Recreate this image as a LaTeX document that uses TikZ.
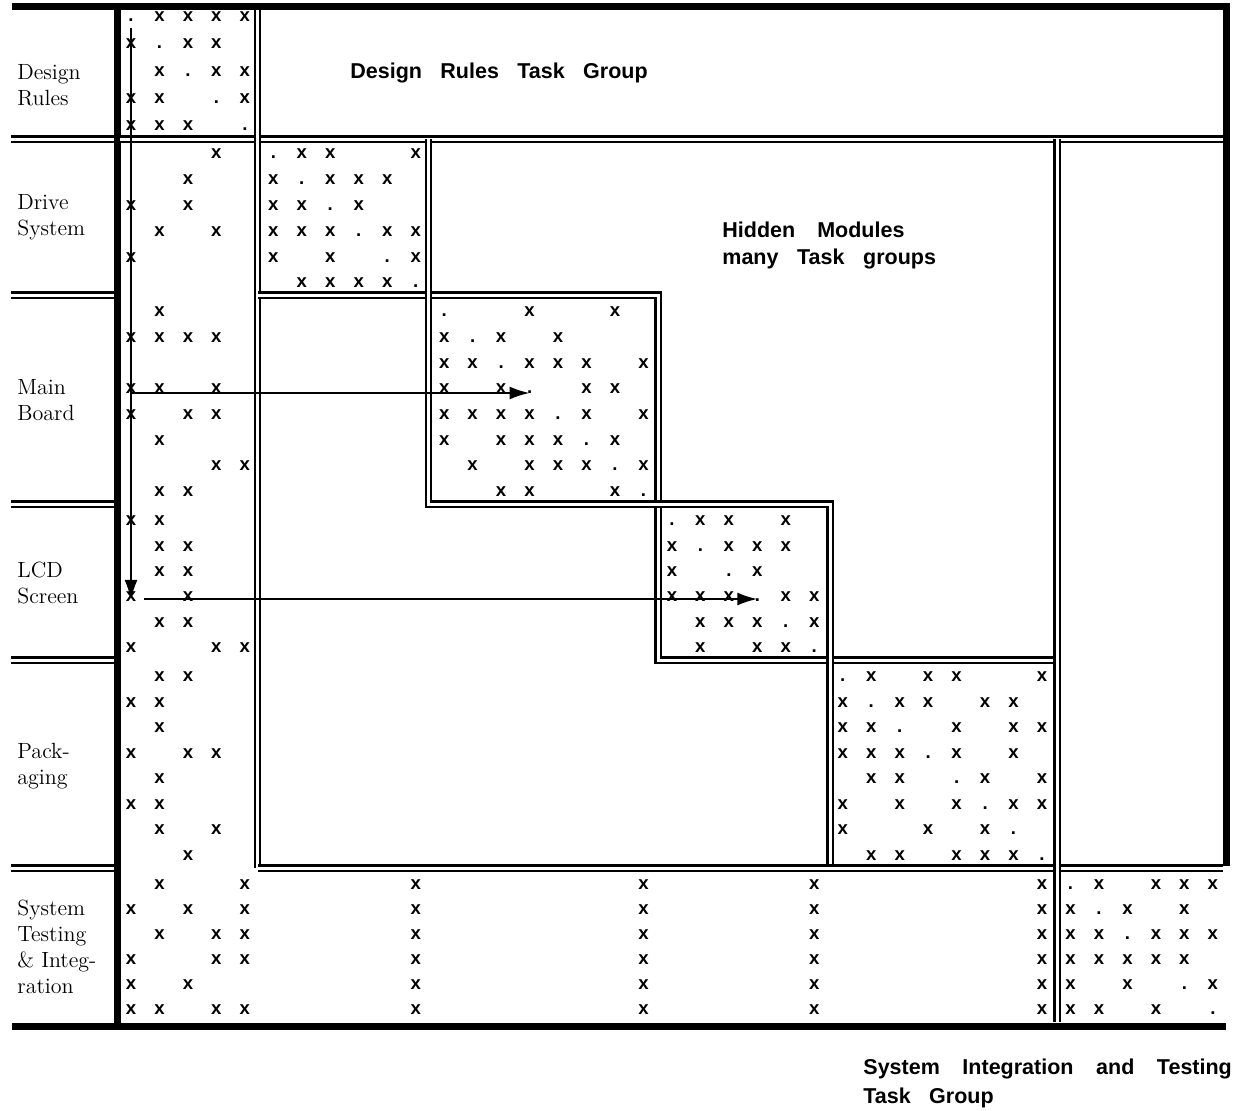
\documentclass[tikz,border=0pt]{standalone}
\usepackage{fontspec}
\newfontfamily\hv{Liberation Sans}
\usetikzlibrary{arrows.meta}
\begin{document}
\begin{tikzpicture}[x=0.5pt,y=-0.5pt,
  mk/.style={inner sep=0pt, font=\hv\bfseries\fontsize{9.3}{9.3}\selectfont},
  dbl/.style={draw, line width=1.05pt, double=white, double distance=1.5pt},
  frameline/.style={line width=3.5pt},
  lab/.style={anchor=west, align=left, inner sep=0pt, font=\fontsize{11}{13}\selectfont},
  ttl/.style={anchor=base west, inner sep=0pt, font=\hv\bfseries\fontsize{10.75}{13.5}\selectfont},
  gap/.style={execute at begin node={\spaceskip=#1\relax}},
  arr/.style={line width=1pt, -{Latex[length=10pt,width=6.5pt]}}
]
\useasboundingbox (0,0) rectangle (1237,1110);
\def\rowy{{16.7,44,71.3,98.6,125.9,153.5,179.4,205.3,231.2,257.1,283,311.7,337.4,363.1,388.8,414.5,440.2,465.9,491.6,521,546.3,571.6,596.9,622.2,647.5,676.7,702.2,727.7,753.2,778.7,804.2,829.7,855.2,885,910,935,960,985,1010}}

% thick frame
\draw[frameline] (11.7,6.7) -- (1229.5,6.7);
\draw[frameline] (117,3) -- (117,1029.5);
\draw[frameline] (1226,3) -- (1226,866);
\draw[frameline] (11.7,1026) -- (1226,1026);

% label separators
\foreach \yy in {139,295,504,660,868} \draw[dbl] (11,\yy) -- (114,\yy);

% block outlines
\draw[dbl] (120,139) -- (1223,139);
\draw[dbl] (257.5,10) -- (257.5,868);
\draw[dbl] (257.5,295) -- (658,295) -- (658,660) -- (1057,660);
\draw[dbl] (428.5,139) -- (428.5,504) -- (830,504) -- (830,868);
\draw[dbl] (257.5,868) -- (1223,868);
\draw[dbl] (1057,139) -- (1057,1022);

% x marks
\foreach \r/\cs in {0/{1,2,3,4},1/{0,2,3},2/{1,3,4},3/{0,1,4},4/{0,1,2},
 5/{3,6,7,10},6/{2,5,7,8,9},7/{0,2,5,6,8},8/{1,3,5,6,7,9,10},9/{0,5,7,10},10/{6,7,8,9},
 11/{1,14,17},12/{0,1,2,3,11,13,15},13/{11,12,14,15,16,18},14/{0,1,3,11,13,16,17},
 15/{0,2,3,11,12,13,14,16,18},16/{1,11,13,14,15,17},17/{3,4,12,14,15,16,18},18/{1,2,13,14,17},
 19/{0,1,20,21,23},20/{1,2,19,21,22,23},21/{1,2,19,22},22/{0,2,19,20,21,23,24},
 23/{1,2,20,21,22,24},24/{0,3,4,20,22,23},
 25/{1,2,26,28,29,32},26/{0,1,25,27,28,30,31},27/{1,25,26,29,31,32},28/{0,2,3,25,26,27,29,31},
 29/{1,26,27,30,32},30/{0,1,25,27,29,31,32},31/{1,3,25,28,30},32/{2,26,27,29,30,31},
 33/{1,4,10,18,24,32,34,36,37,38},34/{0,2,4,10,18,24,32,33,35,37},
 35/{1,3,4,10,18,24,32,33,34,36,37,38},36/{0,3,4,10,18,24,32,33,34,35,36,37},
 37/{0,2,10,18,24,32,33,35,38},38/{0,1,3,4,10,18,24,32,33,34,36}}
{
  \pgfmathsetmacro\yy{\rowy[\r]}
  \foreach \c in \cs { \node[mk] (x\r-\c) at ({131+28.47*\c},\yy) {x}; }
}
% diagonal dots
\foreach \r in {0,...,35,37,38} {
  \pgfmathsetmacro\yy{\rowy[\r]}
  \node[mk] (d\r) at ({131+28.47*\r},\yy) {\vphantom{x}.};
}

% arrows
\coordinate (vs) at (131,28);
\draw[arr] (vs) -- ([yshift=-1.5pt]x22-0.center);
\coordinate (h1) at (131,393);
\draw[arr] (h1) -- (h1 -| d14.center);
\coordinate (h2) at (144,599);
\draw[arr] (h2) -- (h2 -| d22.center);

% row labels
\node[lab] (lDR) at (17,85) {Design\\Rules};
\node[lab] (lDS) at (17,217) {Drive\\System};
\node[lab] (lMB) at (17,400) {Main\\Board};
\node[lab] (lLCD) at (17,583) {LCD\\Screen};
\node[lab] (lPK) at (17,766) {Pack-\\aging};
\node[lab] (lST) at (17,947) {System\\Testing\\\& Integ-\\ration};

% group titles
\node[ttl,gap=9.2pt] (tDR) at (350,78) {Design Rules Task Group};
\node[ttl,gap=11pt] (tHM1) at (722,237) {Hidden Modules};
\node[ttl,gap=9.3pt] (tHM2) at (722,264) {many Task groups};
\node[ttl,gap=11.3pt] (tSI1) at (863,1074) {System Integration and Testing};
\node[ttl,gap=9.2pt] (tSI2) at (863,1103) {Task Group};
\end{tikzpicture}
\end{document}
